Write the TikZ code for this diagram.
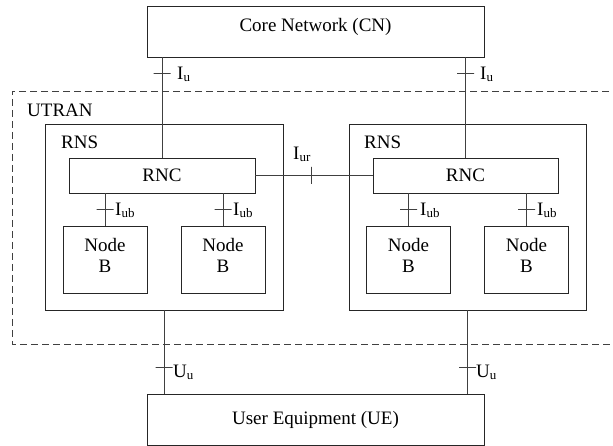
\documentclass[tikz,border=0pt]{standalone}
\usepackage{fontspec}
\setmainfont{Liberation Serif}
\newcommand{\iface}[2]{#1\raisebox{-2pt}{\fontsize{13}{13}\selectfont #2}}
\begin{document}
\begin{tikzpicture}[x=1pt,y=-1pt,font=\fontsize{19}{21}\selectfont,
	box/.style={draw=black!85,line width=0.9pt,inner sep=0pt,align=center},
	nodeb/.style={box,minimum width=84,minimum height=67,text height=27pt},
	link/.style={draw=black!75,line width=0.9pt},
	hbar/.style={draw=black!75,line width=0.9pt,minimum width=17,minimum height=0,inner sep=0},
	vbar/.style={draw=black!75,line width=0.9pt,minimum height=17,minimum width=0,inner sep=0},
	lbl/.style={anchor=base west,inner sep=0}]
		\clip (0,0) rectangle (613,446);
		% UTRAN area, open at the right
		\draw[black!75,line width=0.9pt,dash pattern=on 7pt off 4pt] (620,91) -- (12,91) -- (12,344) -- (620,344);
		\node[lbl] (utran) at (27,117) {UTRAN};
		% core network and user equipment
		\node[box,minimum width=337,minimum height=51,text height=7pt,text depth=7pt] (cn) at (315.5,31.5) {Core Network (CN)};
		\node[box,minimum width=337,minimum height=51] (ue) at (315.5,419.5) {User Equipment (UE)};
		% the two RNS
		\node[box,minimum width=238,minimum height=186] (rnsL) at (164,217) {};
		\node[box,minimum width=237,minimum height=186] (rnsR) at (467.5,217) {};
		\node[lbl] (rnsLtxt) at (61,149) {RNS};
		\node[lbl] (rnsRtxt) at (364,149) {RNS};
		\node[box,minimum width=186,minimum height=35] (rncL) at (162,175.5) {RNC};
		\node[box,minimum width=185,minimum height=35] (rncR) at (465.5,175.5) {RNC};
		\node[nodeb] (nbL1) at (105,259.5) {Node\\B};
		\node[nodeb] (nbL2) at (223,259.5) {Node\\B};
		\node[nodeb] (nbR1) at (408.5,259.5) {Node\\B};
		\node[nodeb] (nbR2) at (526.5,259.5) {Node\\B};
		% interfaces
		\draw[link] (rncL) -- (rncL |- cn.south) node[hbar,pos=0.84] (tiuL) {};
		\draw[link] (rncR) -- (rncR |- cn.south) node[hbar,pos=0.84] (tiuR) {};
		\draw[link] (rncL) -- (rncR) node[vbar,pos=0.475] (tiur) {};
		\draw[link] (nbL1) -- (nbL1 |- rncL.south) node[hbar,pos=0.5] (tiubL1) {};
		\draw[link] (nbL2) -- (nbL2 |- rncL.south) node[hbar,pos=0.5] (tiubL2) {};
		\draw[link] (nbR1) -- (nbR1 |- rncR.south) node[hbar,pos=0.5] (tiubR1) {};
		\draw[link] (nbR2) -- (nbR2 |- rncR.south) node[hbar,pos=0.5] (tiubR2) {};
		\draw[link] (rnsL) -- (rnsL |- ue.north) node[hbar,pos=0.69] (tuuL) {};
		\draw[link] (rnsR) -- (rnsR |- ue.north) node[hbar,pos=0.69] (tuuR) {};
		\node[lbl] (iuL) at (177,80) {\iface{I}{u}};
		\node[lbl] (iuR) at (480,80) {\iface{I}{u}};
		\node[lbl] (iur) at (293,160) {\iface{I}{ur}};
		\node[lbl] (iubL1) at (115,216) {\iface{I}{ub}};
		\node[lbl] (iubL2) at (233,216) {\iface{I}{ub}};
		\node[lbl] (iubR1) at (420,216) {\iface{I}{ub}};
		\node[lbl] (iubR2) at (537,216) {\iface{I}{ub}};
		\node[lbl] (uuL) at (173,377) {\iface{U}{u}};
		\node[lbl] (uuR) at (476,377) {\iface{U}{u}};
\end{tikzpicture}
\end{document}
